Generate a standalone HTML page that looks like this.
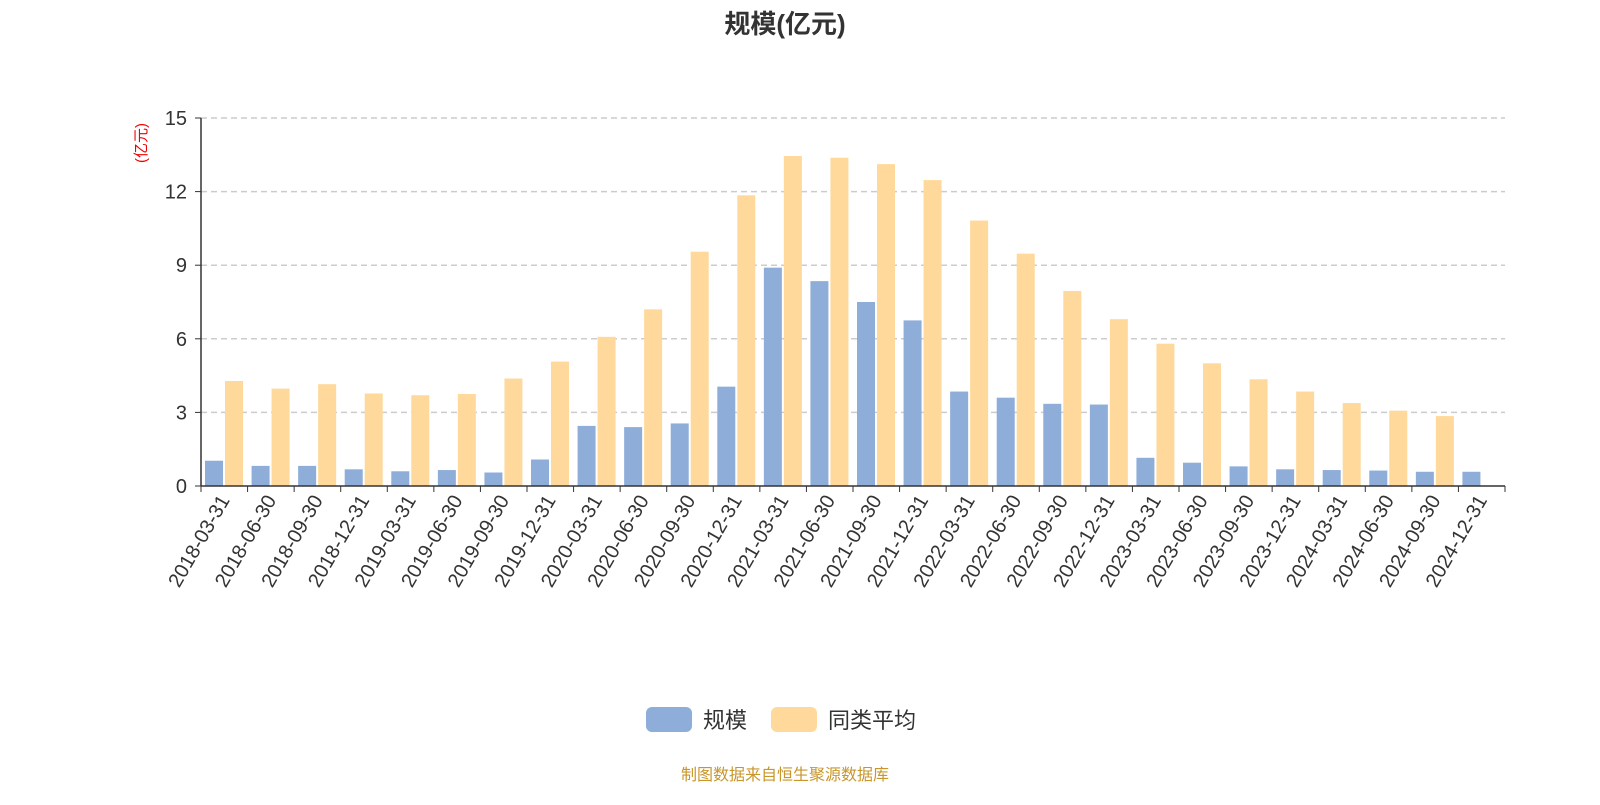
<!DOCTYPE html>
<html><head><meta charset="utf-8"><style>
body{margin:0;background:#fff;font-family:"Liberation Sans","Noto Sans CJK SC",sans-serif}
svg text{font-family:"Liberation Sans","Noto Sans CJK SC",sans-serif}
</style></head><body>
<svg id="c" width="1600" height="800">
<text x="785" y="33" text-anchor="middle" font-size="26" font-weight="bold" fill="#333">规模(亿元)</text>
<text transform="translate(146,143) rotate(-90)" text-anchor="middle" font-size="15" fill="#e00">(亿元)</text>
<g id="grid"></g><g id="bars"></g><g id="axes"></g>
<g>
<rect x="646" y="707" width="46" height="25" rx="6" fill="#8eadd9"/>
<text x="703" y="728" font-size="22" fill="#333">规模</text>
<rect x="771" y="707" width="46" height="25" rx="6" fill="#fed99b"/>
<text x="828" y="728" font-size="22" fill="#333">同类平均</text>
</g>
<text x="785" y="780" text-anchor="middle" font-size="16" fill="#c8962a">制图数据来自恒生聚源数据库</text>
</svg>
<script>
const categories=["2018-03-31","2018-06-30","2018-09-30","2018-12-31","2019-03-31","2019-06-30","2019-09-30","2019-12-31","2020-03-31","2020-06-30","2020-09-30","2020-12-31","2021-03-31","2021-06-30","2021-09-30","2021-12-31","2022-03-31","2022-06-30","2022-09-30","2022-12-31","2023-03-31","2023-06-30","2023-09-30","2023-12-31","2024-03-31","2024-06-30","2024-09-30","2024-12-31"];
const scaleValues=[1.03,0.82,0.82,0.68,0.6,0.65,0.55,1.08,2.45,2.4,2.55,4.05,8.9,8.35,7.5,6.75,3.85,3.6,3.35,3.32,1.15,0.95,0.8,0.68,0.65,0.63,0.58,0.58];
const avgValues=[4.28,3.97,4.15,3.77,3.7,3.75,4.38,5.07,6.08,7.2,9.55,11.85,13.45,13.38,13.12,12.47,10.82,9.47,7.95,6.8,5.8,5.0,4.35,3.85,3.38,3.07,2.85,null];
const yTicks=[0,3,6,9,12,15];
const NS="http://www.w3.org/2000/svg";
const L=201,R=1505,T=118,B=486,yMax=15;
const bw=(R-L)/categories.length;
const y=v=>B-(v/yMax)*(B-T);
const x=i=>L+i*bw;
function mk(t,a,p){const e=document.createElementNS(NS,t);for(const k in a)e.setAttribute(k,a[k]);p.appendChild(e);return e;}
const grid=document.getElementById('grid'),bars=document.getElementById('bars'),axes=document.getElementById('axes');
yTicks.forEach(v=>{
 if(v>0){const g=mk('line',{x1:L,x2:R,y1:y(v),y2:y(v),stroke:'#ccc','stroke-dasharray':'6,4','stroke-width':1.5},grid);
 
 }
 const t=mk('text',{x:L-14,y:y(v)+7,'text-anchor':'end','font-size':20,fill:'#333'},axes);t.textContent=v;
 
 
 mk('line',{x1:L-6,x2:L,y1:y(v),y2:y(v),stroke:'#333'},axes);
});
categories.forEach((c,i)=>{
 const b=mk('rect',{x:x(i)+4,y:y(scaleValues[i]),width:18,height:B-y(scaleValues[i]),fill:'#8eadd9'},bars);
 
 
 if(avgValues[i]!=null){const o=mk('rect',{x:x(i)+24,y:y(avgValues[i]),width:18,height:B-y(avgValues[i]),fill:'#fed99b'},bars);
 
 }
 const cx=x(i)+bw/2;
 mk('line',{x1:x(i),x2:x(i),y1:B,y2:B+6,stroke:'#333'},axes);
 const t=mk('text',{x:0,y:0,'text-anchor':'end','font-size':20,fill:'#333',transform:`translate(${cx+6},${B+14}) rotate(-60)`},axes);
 t.textContent=c;
 
 
});
mk('line',{x1:R,x2:R,y1:B,y2:B+6,stroke:'#333'},axes);
const xa=mk('line',{x1:L,x2:R,y1:B,y2:B,stroke:'#333','stroke-width':1.5},axes);


const ya=mk('line',{x1:L,x2:L,y1:T,y2:B,stroke:'#333','stroke-width':1.5},axes);


</script>
</body></html>
